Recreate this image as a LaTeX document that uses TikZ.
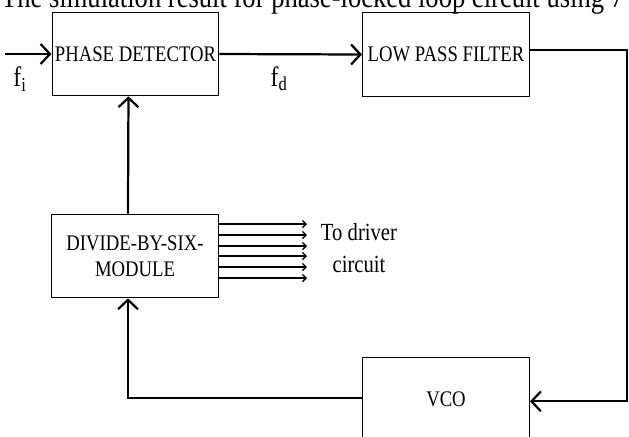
\documentclass[tikz,border=0pt]{standalone}
\usepackage{fontspec}
\setmainfont[FakeStretch=0.84]{Liberation Serif}
\usetikzlibrary{arrows.meta,positioning}

\begin{document}
\begin{tikzpicture}[x=0.03cm,y=-0.03cm]
\tikzstyle{every node}=[font=\fontsize{19}{22}\selectfont]
\tikzstyle{block}=[draw, line width=1.1pt, inner sep=0pt, align=center, minimum width=5cm, minimum height=2.5cm]
\tikzstyle{sig}=[line width=1.9pt, -{Straight Barb[length=8pt,width=17pt]}]
\tikzstyle{drv}=[line width=1.2pt, -{Straight Barb[length=3pt,width=6pt]}]
\useasboundingbox (0,0) rectangle (629,436);

\node[anchor=base west, font=\fontsize{27}{30}\selectfont] (title) at (-3,7) {The simulation result for phase-locked loop circuit using 7};

\node[block] (pd) at (135.5,54) {PHASE DETECTOR};
\node[block] (lpf) at (446,54.5) {LOW PASS FILTER};
\node[block] (div) at (135,256) {DIVIDE-BY-SIX-\\MODULE};
\node[block] (vco) at (446,399) {VCO};

\node[font=\fontsize{24}{26}\selectfont] (fi) at (20,79) {f\textsubscript{i}};
\node[font=\fontsize{24}{26}\selectfont] (fd) at (279,79) {f\textsubscript{d}};
\node[align=center, font=\fontsize{21}{28}\selectfont] (lbl) at (359,248) {To driver\\circuit};

\coordinate (in) at (5,0);
\coordinate (rt) at (627,0);
\coordinate (drvend) at (307,0);

\draw[sig] (in |- pd.west) -- (pd.west);
\draw[sig] (pd.east) -- (lpf.west);
\draw[sig] ([yshift=4pt]lpf.east) -- ([yshift=4pt]lpf.east -| rt) |- ([yshift=-2pt]vco.east);
\draw[sig] ([yshift=1pt]vco.west) -| ([xshift=-6pt]div.south);
\draw[sig] ([xshift=-6pt]div.north) -- ([xshift=-6pt]pd.south);

\foreach \yy in {224,235,246,256,267,278}
  \draw[drv] (div.east |- 0,\yy) -- (drvend |- 0,\yy);

\end{tikzpicture}
\end{document}
